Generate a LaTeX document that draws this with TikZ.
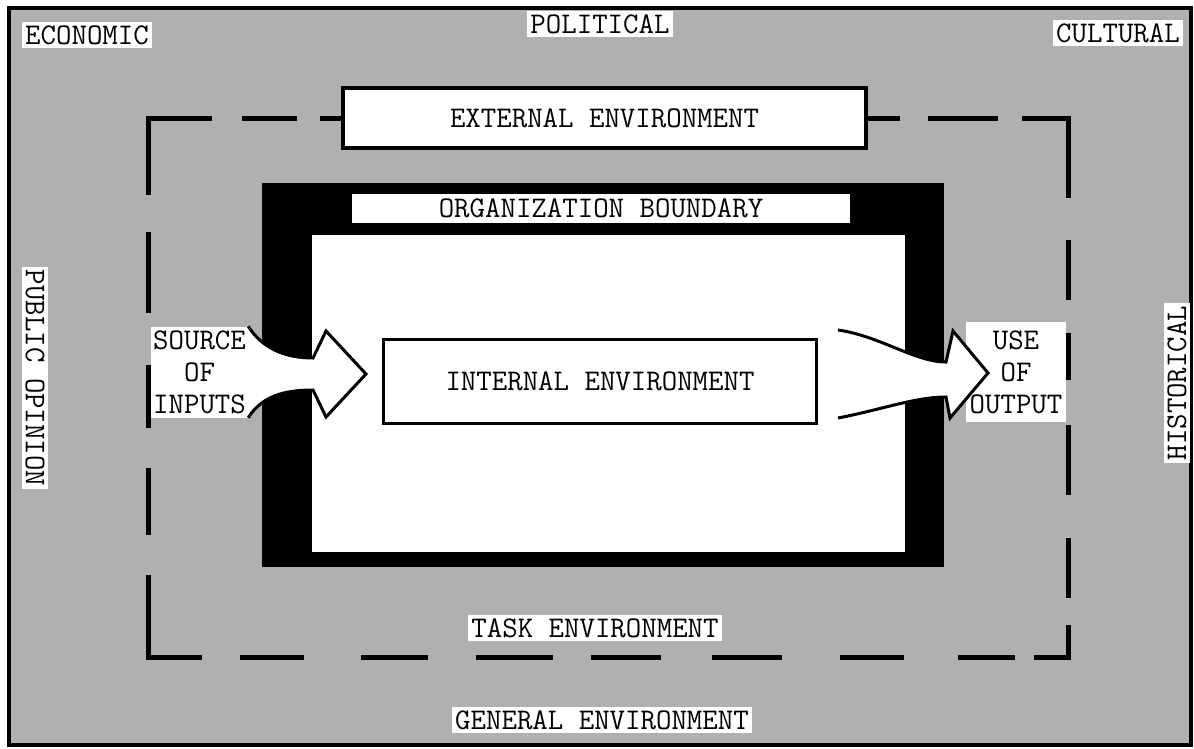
\documentclass[tikz,border=0pt]{standalone}
\usepackage{fontspec}
\usetikzlibrary{calc}
\definecolor{halftone}{gray}{0.69}
\begin{document}
\begin{tikzpicture}[x=1pt,y=-1pt,
  txt/.style={font=\ttfamily\fontsize{30}{32}\selectfont},
  lbl/.style={txt,fill=white,inner xsep=3pt,inner ysep=3pt},
  tline/.style={line width=5pt},
  aline/.style={line width=3pt,line join=miter},
  boxed/.style={txt,draw,fill=white,inner sep=0pt}]
\useasboundingbox (0,0) rectangle (1194,748);
\fill[white] (0,0) rectangle (1194,748);

% general environment: screened field with a frame
\fill[halftone] (9,8) rectangle (1191,745);
\draw[line width=3.5pt] (9,8) rectangle (1191,745);

% external environment box on the task boundary
\node[boxed,line width=4pt,minimum width=523pt,minimum height=60pt] (ext) at (604.5,118) {EXTERNAL ENVIRONMENT};

% task environment: dashed boundary
\draw[tline] (148,195) |- (212,118);
\draw[tline] (242,118) -- (297,118);
\draw[tline] (320,118) -- (ext.west);
\draw[tline] (ext.east) -- (900,118);
\draw[tline] (928,118) -- (998,118);
\draw[tline] (1022,118) -| (1068,198);
\draw[tline] (1068,240) -- (1068,300);
\draw[tline] (1068,333) -- (1068,380);
\draw[tline] (1068,425) -- (1068,495);
\draw[tline] (1068,538) -- (1068,598);
\draw[tline] (1068,625) |- (1034,657);
\draw[tline] (1015,657) -- (958,657);
\draw[tline] (904,657) -- (840,657);
\draw[tline] (782,657) -- (712,657);
\draw[tline] (661,657) -- (591,657);
\draw[tline] (553,657) -- (476,657);
\draw[tline] (428,657) -- (361,657);
\draw[tline] (304,657) -- (240,657);
\draw[tline] (202,657) -| (148,575);
\draw[tline] (148,535) -- (148,468);
\draw[tline] (148,428) -- (148,365);
\draw[tline] (148,313) -- (148,232);

% organization boundary
\fill[black] (262,183) rectangle (944,567);
\fill[white] (312,235) rectangle (905,552);
\node[txt,fill=white,inner sep=0pt,minimum width=498pt,minimum height=29pt] (org) at (601,208) {ORGANIZATION BOUNDARY};

% internal environment
\node[boxed,line width=3pt,minimum width=433pt,minimum height=84pt] (int) at (600,381) {INTERNAL ENVIRONMENT};

% inputs
\node[txt,fill=white,inner sep=0pt,minimum width=97pt,minimum height=91pt,align=center] (src) at (199.5,372) {SOURCE\\OF\\INPUTS};
\coordinate (in-tip) at ($(int.west)+(-16,-7)$);
\path[fill=white] (src.north east) .. controls +(14,22) and +(-28,0) .. (313,358) -- (326,331) -- (in-tip) -- (326,417) -- (313,390) .. controls +(-28,0) and +(14,-22) .. (src.south east) -- cycle;
\draw[aline] (src.north east) .. controls +(14,22) and +(-28,0) .. (313,358) -- (326,331) -- (in-tip) -- (326,417) -- (313,390) .. controls +(-28,0) and +(14,-22) .. (src.south east);

% outputs
\node[txt,fill=white,inner sep=0pt,minimum width=100pt,minimum height=100pt,align=center] (use) at (1016,372) {USE\\OF\\OUTPUT};
\coordinate (out-tip) at (988,373);
\coordinate (out-start) at (838,330);
\coordinate (out-end) at (838,418);
\path[fill=white] (out-start) .. controls (880,336) and (915,362) .. (946,362) -- (953,331) -- (out-tip) -- (950,418) -- (946,397) .. controls (915,397) and (880,410) .. (out-end) -- cycle;
\draw[aline] (out-start) .. controls (880,336) and (915,362) .. (946,362) -- (953,331) -- (out-tip) -- (950,418) -- (946,397) .. controls (915,397) and (880,410) .. (out-end);

% general environment labels
\node[lbl] (eco) at (87,35) {ECONOMIC};
\node[lbl] (pol) at (600,24) {POLITICAL};
\node[lbl] (cul) at (1118,33) {CULTURAL};
\node[lbl,rotate=-90] (pub) at (35,378) {PUBLIC OPINION};
\node[lbl,rotate=90] (his) at (1177,383) {HISTORICAL};
\node[lbl] (task) at (595,628) {TASK ENVIRONMENT};
\node[lbl] (gen) at (602,720) {GENERAL ENVIRONMENT};
\end{tikzpicture}
\end{document}
